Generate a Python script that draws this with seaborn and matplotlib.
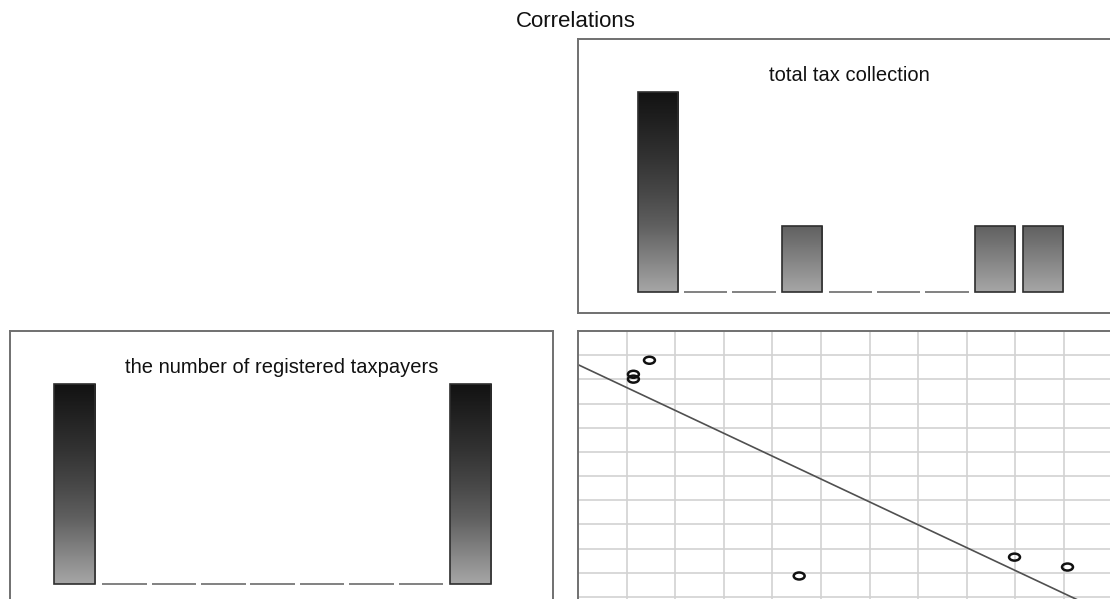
import numpy as np
import pandas as pd
import matplotlib
matplotlib.use("Agg")
import matplotlib.pyplot as plt
from matplotlib.colors import LinearSegmentedColormap
from matplotlib.path import Path
from matplotlib.transforms import Affine2D
import seaborn as sns

# Observations: one entry per reporting unit
tax_collection = [114, 114, 147, 455, 898, 1007]
registered_taxpayers = [10210, 10010, 10790, 1870, 2650, 2240]
panel_titles = ["total tax collection", "the number of registered taxpayers"]
figure_title = "Correlations"
n_bins = 9

df = pd.DataFrame({"tax": tax_collection, "payers": registered_taxpayers})

sns.set_theme(style="white")
plt.rcParams["font.family"] = ["Liberation Sans", "DejaVu Sans"]

W, H = 1110, 599
fig = plt.figure(figsize=(W / 100, H / 100), dpi=100)
fig.patch.set_facecolor("white")


def px_axes(left, top, right, bottom):
    return fig.add_axes([left / W, 1 - bottom / H, (right - left) / W, (bottom - top) / H])


ax_tax = px_axes(578, 39, 1120, 313)     # diagonal: tax collection
ax_pay = px_axes(10, 331, 553, 605)      # diagonal: registered taxpayers
ax_sc = px_axes(578, 331, 1120, 605)     # off-diagonal scatter

shade = LinearSegmentedColormap.from_list(
    "shade",
    [(0.0, "#a6a6a6"), (1 / 3, "#5f5f5f"), (0.5, "#474747"),
     (2 / 3, "#333333"), (1.0, "#121212")],
)

tax_lim = (0, 1115)
pay_lim = (1063, 11949)
count_lim = (-0.31, 3.8)
bar_shrink = 0.83


def gradient_hist(ax, values, xlim, title):
    sns.histplot(x=values, bins=n_bins, shrink=bar_shrink, ax=ax, stat="count",
                 element="bars", fill=True)
    bars = list(ax.patches)
    top = max(b.get_height() for b in bars)
    grad = np.linspace(0, 1, 256).reshape(-1, 1)
    for bar in bars:
        h = bar.get_height()
        x0, w = bar.get_x(), bar.get_width()
        bar.set_facecolor("none")
        bar.set_linewidth(1.2)
        bar.set_zorder(3)
        if h > 0:
            bar.set_edgecolor("#2e2e2e")
            im = ax.imshow(grad, cmap=shade, origin="lower", aspect="auto",
                           extent=(x0, x0 + w, 0, top), vmin=0, vmax=1,
                           interpolation="bilinear", zorder=2)
            im.set_clip_path(bar)
        else:
            # empty bins are drawn as a slightly wider baseline stroke
            center = x0 + w / 2
            wide = w / bar_shrink * 0.9
            bar.set_x(center - wide / 2)
            bar.set_width(wide)
            bar.set_edgecolor("#6c6c6c")
    ax.set_xlim(*xlim)
    ax.set_ylim(*count_lim)
    ax.set_aspect("auto")
    ax.set_xticks([])
    ax.set_yticks([])
    ax.set_xlabel("")
    ax.set_ylabel("")
    ax.text(0.5, 0.845, title, transform=ax.transAxes, ha="center",
            va="baseline", fontsize=14.5, color="#111111")


gradient_hist(ax_tax, df["tax"], tax_lim, panel_titles[0])
gradient_hist(ax_pay, df["payers"], pay_lim, panel_titles[1])

# Scatter of registered taxpayers against tax collection with a fitted line
ax_sc.set_xlim(*tax_lim)
ax_sc.set_ylim(670, 12000)
sns.regplot(data=df, x="tax", y="payers", ax=ax_sc, scatter=False, ci=None,
            truncate=False, line_kws=dict(color="#505050", lw=1.2, zorder=2))
ellipse = Path.unit_circle().transformed(Affine2D().scale(1, 0.64))
sns.scatterplot(data=df, x="tax", y="payers", ax=ax_sc, marker=ellipse,
                s=62, linewidth=1.8, zorder=3)
pts = ax_sc.collections[-1]
pts.set_facecolor("none")
pts.set_edgecolor("#111111")
ax_sc.set_xlim(*tax_lim)
ax_sc.set_ylim(670, 12000)
ax_sc.set_xticks(range(100, 1101, 100))
ax_sc.set_yticks(range(1000, 12000, 1000))
ax_sc.tick_params(length=0, labelbottom=False, labelleft=False)
ax_sc.set_axisbelow(True)
ax_sc.grid(True, color="#d2d2d2", lw=1.2)
ax_sc.set_xlabel("")
ax_sc.set_ylabel("")

for ax in (ax_tax, ax_pay, ax_sc):
    for sp in ax.spines.values():
        sp.set_visible(True)
        sp.set_color("#707070")
        sp.set_linewidth(1.4)

fig.text(576 / W, 1 - 27 / H, figure_title, ha="center", va="baseline",
         fontsize=16, color="#111111")

fig.savefig("out.png", dpi=100, facecolor="white")
